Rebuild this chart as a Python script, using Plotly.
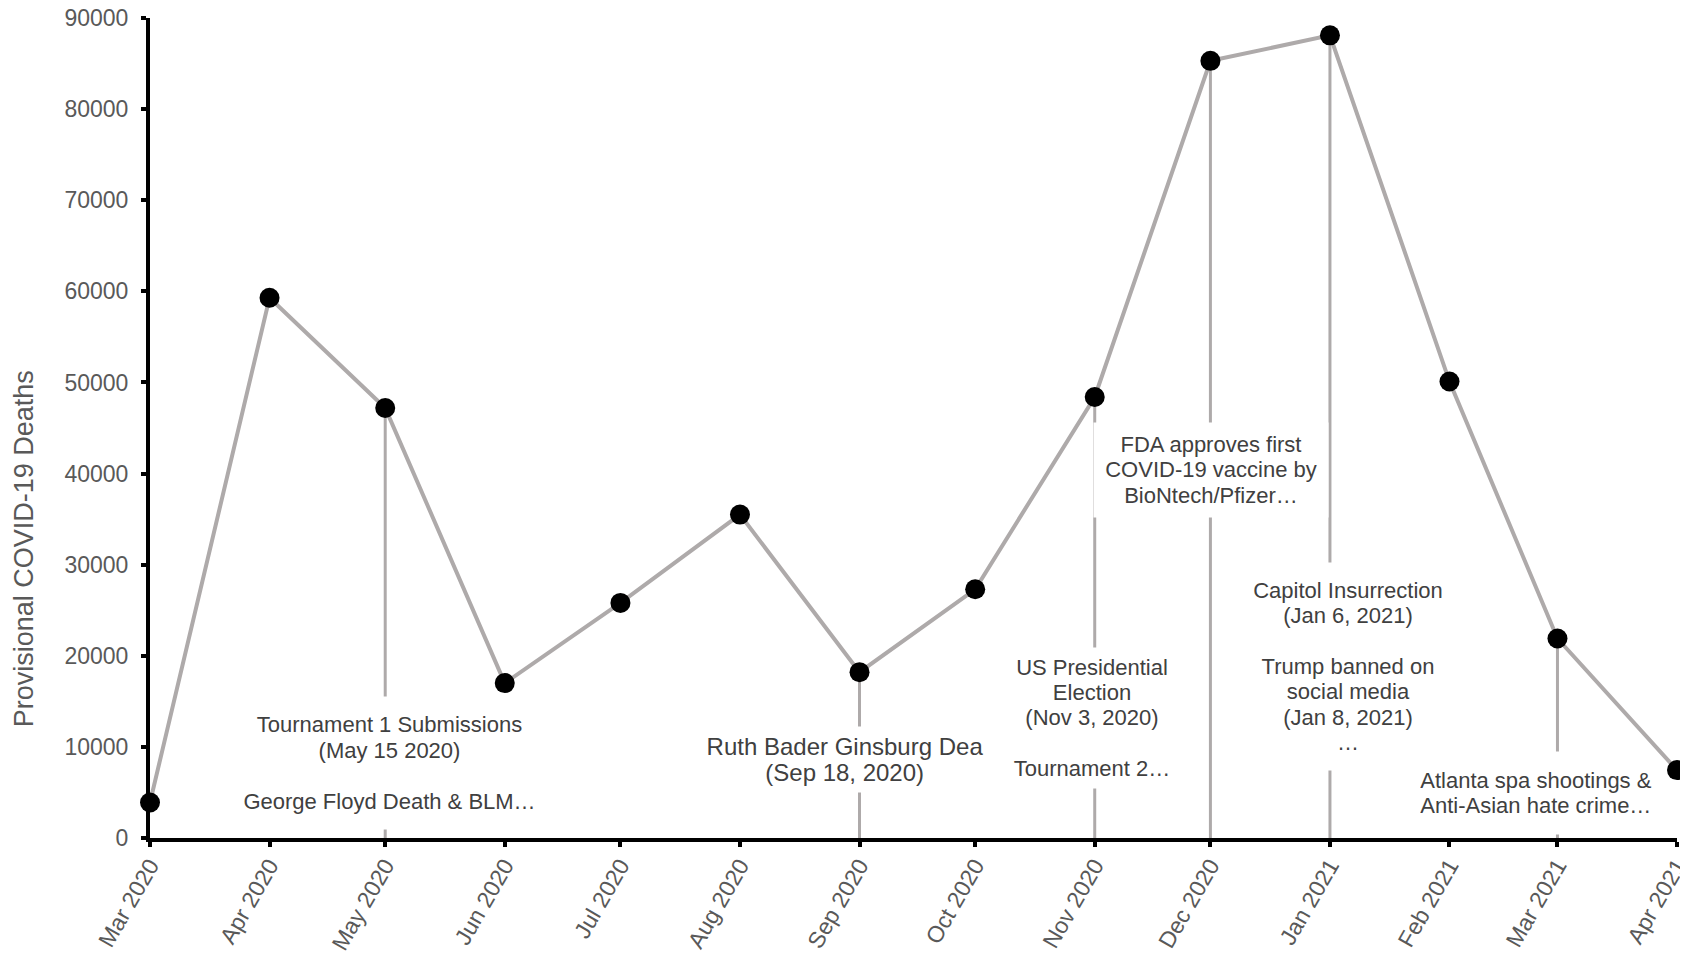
import plotly.graph_objects as go

# ---------------- data ----------------
months = ["2020-03-01", "2020-04-01", "2020-05-01", "2020-06-01", "2020-07-01",
          "2020-08-01", "2020-09-01", "2020-10-01", "2020-11-01", "2020-12-01",
          "2021-01-01", "2021-02-01", "2021-03-01", "2021-04-01"]
month_labels = ["Mar 2020", "Apr 2020", "May 2020", "Jun 2020", "Jul 2020",
                "Aug 2020", "Sep 2020", "Oct 2020", "Nov 2020", "Dec 2020",
                "Jan 2021", "Feb 2021", "Mar 2021", "Apr 2021"]
deaths = [3900, 59300, 47200, 17000, 25800, 35500, 18200, 27300, 48400,
          85300, 88100, 50100, 21900, 7450]

event_months = ["2020-05-01", "2020-09-01", "2020-11-01", "2020-12-01",
                "2021-01-01", "2021-03-01"]
event_lines = [
    ["Tournament 1 Submissions", "(May 15 2020)", "", "George Floyd Death & BLM…"],
    ["Ruth Bader Ginsburg Dea", "(Sep 18, 2020)"],
    ["US Presidential", "Election", "(Nov 3, 2020)", "", "Tournament 2…"],
    ["FDA approves first", "COVID-19 vaccine by", "BioNtech/Pfizer…"],
    ["Capitol Insurrection", "(Jan 6, 2021)", "", "Trump banned on", "social media",
     "(Jan 8, 2021)", "…"],
    ["Atlanta spa shootings &", "Anti-Asian hate crime…"],
]

y_title = "Provisional COVID-19 Deaths"

# ---------------- label box layout (position in value units, sizes in px) ----------------
label_layout = [
    dict(yc=8210, w=301, h=132, dx=4, fs=22, lh=19.5),
    dict(yc=8650, w=290, h=65, dx=-15, fs=24, lh=20.5),
    dict(yc=13160, w=180, h=140, dx=-3, fs=22, lh=19.5),
    dict(yc=40340, w=234, h=94, dx=1, fs=22, lh=19.5),
    dict(yc=18830, w=200, h=207, dx=18, fs=22, lh=19.5),
    dict(yc=4930, w=232, h=82, dx=-21, fs=22, lh=19.5),
]
title_pos = dict(x=0, xshift=-126, y=0.352)

LINE_GRAY = "#AEAAAA"
TEXT_DARK = "#404040"
TICK_GRAY = "#595959"
FONT = "Arial, Liberation Sans, sans-serif"

value_by_month = dict(zip(months, deaths))

fig = go.Figure()

# drop lines from axis to the data point at each event month
dx, dy = [], []
for m in event_months:
    dx += [m, m, None]
    dy += [0, value_by_month[m], None]
fig.add_trace(go.Scatter(x=dx, y=dy, mode="lines",
                         line=dict(color=LINE_GRAY, width=3),
                         hoverinfo="skip", showlegend=False))

# main series
fig.add_trace(go.Scatter(x=months, y=deaths, mode="lines+markers",
                         line=dict(color=LINE_GRAY, width=4),
                         marker=dict(color="black", size=20),
                         cliponaxis=False, showlegend=False))

# event labels
for m, lines, lay in zip(event_months, event_lines, label_layout):
    txt = "<br>".join(
        (f'<span style="font-size:{lay["fs"]}px">{ln}</span>' if ln else "")
        for ln in lines)
    fig.add_annotation(x=m, y=lay["yc"], xref="x", yref="y", text=txt,
                       showarrow=False, xanchor="center", yanchor="middle",
                       xshift=lay["dx"], width=lay["w"], height=lay["h"],
                       bgcolor="white", borderpad=0, align="center",
                       valign="middle",
                       font=dict(family=FONT, size=lay["lh"], color=TEXT_DARK))

# y-axis title (sits below the axis centre in the reference)
fig.add_annotation(text=y_title, xref="paper", yref="paper",
                   x=title_pos["x"], xshift=title_pos["xshift"], y=title_pos["y"],
                   xanchor="center", yanchor="middle", textangle=-90,
                   showarrow=False,
                   font=dict(family=FONT, size=27, color=TICK_GRAY))

# the page body has an 8px margin, so the figure is sized to fill the rest
fig.update_layout(
    width=1680, height=952, autosize=False,
    margin=dict(l=142, r=11, t=10, b=122),
    paper_bgcolor="white", plot_bgcolor="white",
    font=dict(family=FONT, color=TICK_GRAY),
    showlegend=False,
)
fig.update_xaxes(
    type="date", range=[months[0], months[-1]],
    tickmode="array", tickvals=months, ticktext=month_labels, tickangle=-60,
    showgrid=False, zeroline=False, automargin=False,
    showline=True, linecolor="black", linewidth=4,
    ticks="outside", ticklen=5, tickwidth=4, tickcolor="black",
    tickfont=dict(family=FONT, size=23, color=TICK_GRAY),
    ticklabelstandoff=-4, ticklabeloverflow="allow",
)
fig.update_yaxes(
    range=[0, 90000], dtick=10000, tickformat="d",
    showgrid=False, zeroline=False, automargin=False,
    showline=True, linecolor="black", linewidth=4,
    ticks="outside", ticklen=5, tickwidth=4, tickcolor="black",
    tickfont=dict(family=FONT, size=23, color=TICK_GRAY),
    ticklabelstandoff=8, ticklabeloverflow="allow",
)

fig.write_html("out.html")
